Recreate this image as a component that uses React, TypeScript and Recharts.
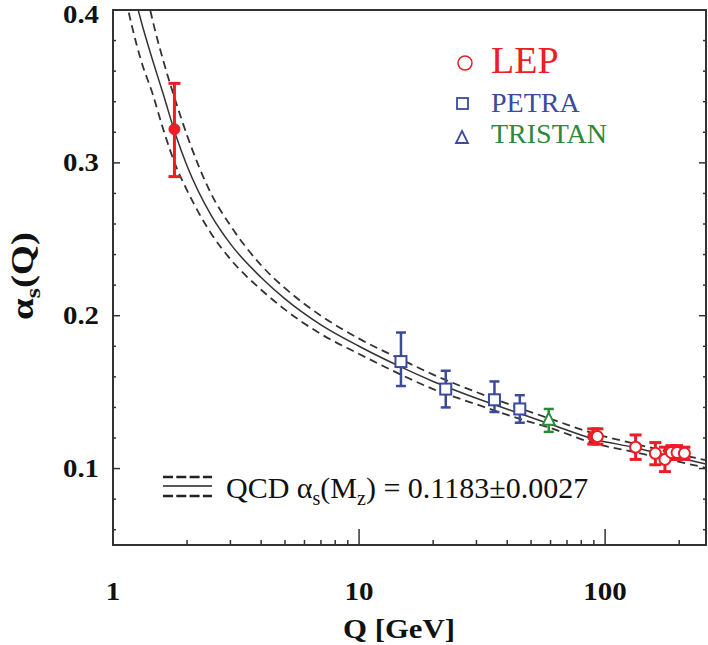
import React from 'react';
import { ComposedChart, Line, Scatter, XAxis, YAxis, ErrorBar, ReferenceArea } from 'recharts';

// QCD running coupling band
const curveQ = [1.1, 1.2, 1.3, 1.45, 1.6, 1.8, 2.0, 2.5, 3.0, 4.0, 5.0, 7.0, 10, 15, 20, 30, 45, 60, 91.2, 130, 180, 257];
const qcdCentral = [0.44, 0.415, 0.393, 0.367, 0.345, 0.318, 0.298, 0.266, 0.247, 0.225, 0.211, 0.194, 0.18, 0.166, 0.157, 0.146, 0.136, 0.129, 0.119, 0.114, 0.1085, 0.103];
const qcdUpper = [0.5, 0.47, 0.43, 0.393, 0.367, 0.34, 0.318, 0.28, 0.259, 0.233, 0.218, 0.2, 0.185, 0.171, 0.1615, 0.15, 0.1395, 0.1325, 0.1227, 0.1165, 0.111, 0.1055];
const qcdLower = [0.415, 0.388, 0.367, 0.345, 0.322, 0.298, 0.282, 0.254, 0.237, 0.217, 0.204, 0.188, 0.175, 0.161, 0.152, 0.142, 0.1325, 0.1265, 0.1163, 0.111, 0.106, 0.1005];

// measurements: Q, alpha_s, [err down, err up]
const tauQ = [1.777];
const tauAlpha = [0.322];
const tauErr = [[0.031, 0.03]];

const petraQ = [14.8, 22.5, 35.5, 45];
const petraAlpha = [0.17, 0.152, 0.145, 0.139];
const petraErr = [[0.016, 0.019], [0.012, 0.012], [0.008, 0.012], [0.009, 0.009]];

const tristanQ = [59];
const tristanAlpha = [0.132];
const tristanErr = [[0.008, 0.007]];

const lepZQ = [89.5];
const lepZAlpha = [0.121];
const lepZErr = [[0.005, 0.005]];

const lepQ = [93, 133, 160, 175, 186, 196, 210];
const lepAlpha = [0.121, 0.114, 0.11, 0.106, 0.1105, 0.1105, 0.11];
const lepErr = [[0.005, 0.005], [0.008, 0.008], [0.0075, 0.007], [0.008, 0.008], [0.0045, 0.0045], [0.0045, 0.0045], [0.004, 0.004]];

const xTicks = [1, 2, 3, 4, 5, 6, 7, 8, 9, 10, 20, 30, 40, 50, 60, 70, 80, 90, 100, 200];
const xLabels = [1, 10, 100];
const yTicks = [0.06, 0.08, 0.1, 0.12, 0.14, 0.16, 0.18, 0.2, 0.22, 0.24, 0.26, 0.28, 0.3, 0.32, 0.34, 0.36, 0.38, 0.4];
const yLabels = [0.1, 0.2, 0.3, 0.4];

const W = 708;
const H = 645;
const LEFT = 113;
const RIGHT = 706;
const TOP = 10;
const BOTTOM = 545;

const RED = '#ee1c24';
const BLUE = '#3a4a9c';
const GREEN = '#2a8a3a';
const INK = '#333';
const SERIF = '"Liberation Serif", "Times New Roman", serif';

const curve = (ys: number[]) => curveQ.map((q, i) => ({ q, a: ys[i] }));
const points = (qs: number[], as: number[], es: number[][]) => qs.map((q, i) => ({ q, a: as[i], e: es[i] }));

const central = curve(qcdCentral);
const upper = curve(qcdUpper);
const lower = curve(qcdLower);
const tau = points(tauQ, tauAlpha, tauErr);
const petra = points(petraQ, petraAlpha, petraErr);
const tristan = points(tristanQ, tristanAlpha, tristanErr);
const lepZ = points(lepZQ, lepZAlpha, lepZErr);
const lep = points(lepQ, lepAlpha, lepErr);

const YTick = (props: any) => {
  const { y, payload } = props;
  const v = payload.value;
  const major = yLabels.some((m) => Math.abs(m - v) < 1e-9);
  const len = major ? 7 : 3;
  return (
    <g>
      <line x1={LEFT} x2={LEFT + len} y1={y} y2={y} stroke={INK} strokeWidth={1.5} />
      <line x1={RIGHT - len} x2={RIGHT} y1={y} y2={y} stroke={INK} strokeWidth={1.5} />
      {major && (
        <text
          x={99}
          y={Math.max(y + 8, 23)}
          textAnchor="end"
          fontFamily={SERIF}
          fontWeight="bold"
          fontSize={25}
          textLength={36}
          lengthAdjust="spacingAndGlyphs"
          fill="#111"
        >
          {v.toFixed(1)}
        </text>
      )}
    </g>
  );
};

const XTick = (props: any) => {
  const { x, payload } = props;
  const v = payload.value;
  const major = xLabels.includes(v);
  const len = major ? 16 : 5;
  const label = String(v);
  return (
    <g>
      <line x1={x} x2={x} y1={BOTTOM} y2={BOTTOM - len} stroke={INK} strokeWidth={1.5} />
      {major && (
        <text
          x={x}
          y={600}
          textAnchor="middle"
          fontFamily={SERIF}
          fontWeight="bold"
          fontSize={26}
          textLength={label.length * 14.5}
          lengthAdjust="spacingAndGlyphs"
          fill="#111"
        >
          {label}
        </text>
      )}
    </g>
  );
};

const OpenCircle = (p: any) => <circle cx={p.cx} cy={p.cy} r={5.5} fill="#fff" stroke={RED} strokeWidth={2} />;
const FilledCircle = (p: any) => <circle cx={p.cx} cy={p.cy} r={5.5} fill={RED} stroke={RED} />;
const OpenSquare = (p: any) => <rect x={p.cx - 5.5} y={p.cy - 5.5} width={11} height={11} fill="#fff" stroke={BLUE} strokeWidth={2} />;
const OpenTriangle = (p: any) => (
  <path d={`M${p.cx},${p.cy - 7} L${p.cx + 6},${p.cy + 5} L${p.cx - 6},${p.cy + 5} Z`} fill="#fff" stroke={GREEN} strokeWidth={2} />
);

export default function App() {
  return (
    <div style={{ position: 'absolute', left: 0, top: 0, width: W, height: H, background: '#fff' }}>
      <ComposedChart width={W} height={H} margin={{ top: TOP, right: W - RIGHT, bottom: 0, left: 0 }}>
        <XAxis
          dataKey="q"
          type="number"
          scale="log"
          domain={[1, 257]}
          allowDataOverflow
          ticks={xTicks}
          interval={0}
          tick={<XTick />}
          tickLine={false}
          axisLine={false}
          height={H - BOTTOM}
        />
        <YAxis
          dataKey="a"
          type="number"
          domain={[0.05, 0.4]}
          allowDataOverflow
          ticks={yTicks}
          interval={0}
          tick={<YTick />}
          tickLine={false}
          axisLine={false}
          width={LEFT}
        />
        <ReferenceArea x1={1} x2={257} y1={0.05} y2={0.4} fill="none" stroke={INK} strokeWidth={2} />
        <Line data={upper} dataKey="a" type="monotone" dot={false} stroke={INK} strokeWidth={1.8} strokeDasharray="8 5" isAnimationActive={false} />
        <Line data={central} dataKey="a" type="monotone" dot={false} stroke={INK} strokeWidth={1.5} isAnimationActive={false} />
        <Line data={lower} dataKey="a" type="monotone" dot={false} stroke={INK} strokeWidth={1.8} strokeDasharray="8 5" isAnimationActive={false} />
        <Scatter data={tau} dataKey="a" shape={FilledCircle} isAnimationActive={false}>
          <ErrorBar dataKey="e" direction="y" width={6} stroke={RED} strokeWidth={3} />
        </Scatter>
        <Scatter data={petra} dataKey="a" shape={OpenSquare} isAnimationActive={false}>
          <ErrorBar dataKey="e" direction="y" width={5} stroke={BLUE} strokeWidth={2.5} />
        </Scatter>
        <Scatter data={tristan} dataKey="a" shape={OpenTriangle} isAnimationActive={false}>
          <ErrorBar dataKey="e" direction="y" width={5} stroke={GREEN} strokeWidth={2.5} />
        </Scatter>
        <Scatter data={lepZ} dataKey="a" shape={FilledCircle} isAnimationActive={false}>
          <ErrorBar dataKey="e" direction="y" width={6} stroke={RED} strokeWidth={3} />
        </Scatter>
        <Scatter data={lep} dataKey="a" shape={OpenCircle} isAnimationActive={false}>
          <ErrorBar dataKey="e" direction="y" width={6} stroke={RED} strokeWidth={3} />
        </Scatter>
      </ComposedChart>

      <svg width={W} height={H} style={{ position: 'absolute', left: 0, top: 0, pointerEvents: 'none' }}>
        {/* axis titles */}
        <text
          transform="translate(33,276) rotate(-90) scale(1.25,1)"
          textAnchor="middle"
          fontFamily={SERIF}
          fontWeight="bold"
          fontSize={31}
          fill="#111"
        >
          α<tspan fontSize={21} dy={7}>s</tspan>
          <tspan dy={-7}>(Q)</tspan>
        </text>
        <text
          x={399}
          y={638}
          textAnchor="middle"
          fontFamily={SERIF}
          fontWeight="bold"
          fontSize={27}
          textLength={112}
          lengthAdjust="spacingAndGlyphs"
          fill="#111"
        >
          Q [GeV]
        </text>

        {/* experiment legend */}
        <circle cx={465} cy={63} r={7} fill="none" stroke={RED} strokeWidth={1.5} />
        <text x={491} y={73} fontFamily={SERIF} fontSize={38} fill={RED}>LEP</text>
        <rect x={457} y={98} width={11} height={11} fill="none" stroke={BLUE} strokeWidth={1.8} />
        <text x={491} y={112} fontFamily={SERIF} fontSize={28} fill={BLUE}>PETRA</text>
        <path d="M462,131 L468,143 L456,143 Z" fill="none" stroke={BLUE} strokeWidth={1.8} />
        <text x={491} y={143} fontFamily={SERIF} fontSize={28} fill={GREEN}>TRISTAN</text>

        {/* QCD band legend */}
        <line x1={163} x2={212} y1={477} y2={477} stroke="#222" strokeWidth={2.5} strokeDasharray="10 3.3" />
        <line x1={163} x2={212} y1={486} y2={486} stroke="#222" strokeWidth={1.5} />
        <line x1={163} x2={212} y1={496} y2={496} stroke="#222" strokeWidth={2.5} strokeDasharray="10 3.3" />
        <text x={226} y={498} fontFamily={SERIF} fontSize={30} fill="#111">
          QCD α<tspan fontSize={20} dy={7}>s</tspan>
          <tspan dy={-7}>(M</tspan>
          <tspan fontSize={20} dy={7}>z</tspan>
          <tspan dy={-7}>) = 0.1183±0.0027</tspan>
        </text>
      </svg>
    </div>
  );
}
